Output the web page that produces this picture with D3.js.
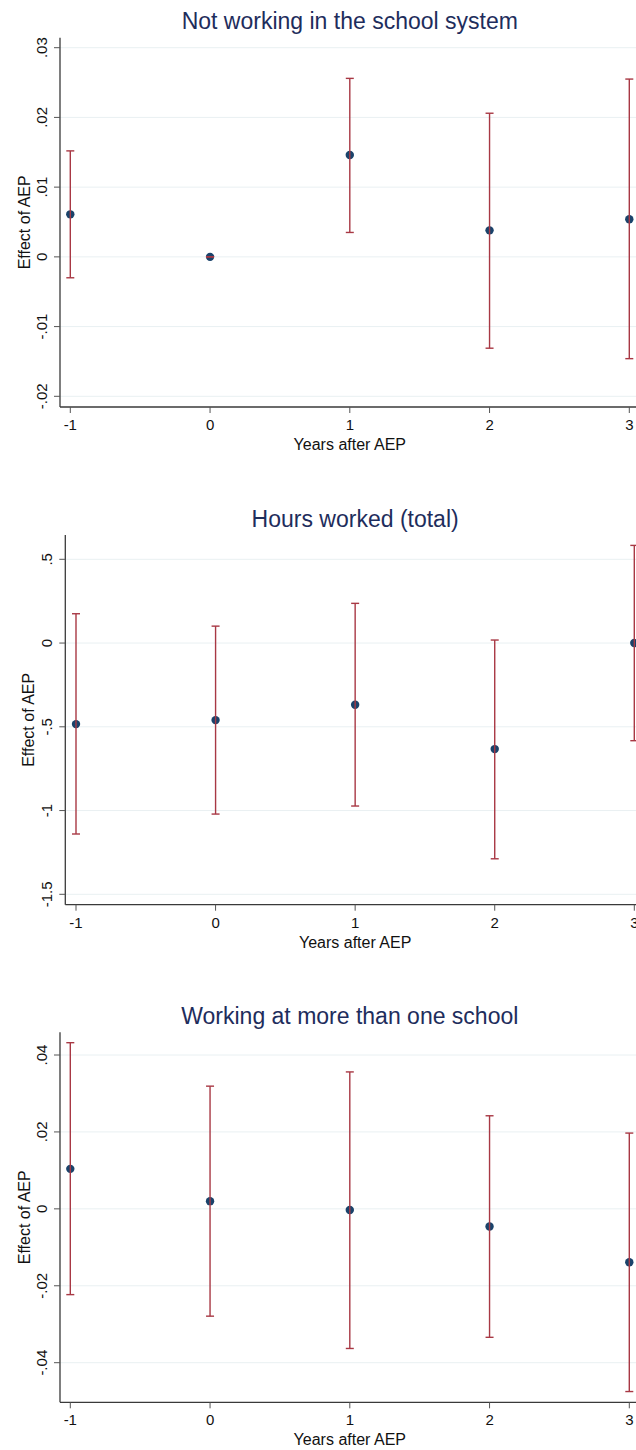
<!DOCTYPE html>
<meta charset="utf-8">
<style>
 body { margin: 0; background: #fff; }
 svg { display: block; font-family: 'Liberation Sans', Arial, Helvetica, sans-serif; }
 .grid { stroke: #e9f0f2; stroke-width: 1; }
 .axisline { stroke: #3a3a3a; stroke-width: 1.3; }
 .tick { stroke: #555; stroke-width: 1; }
 .bar { stroke: #a83844; stroke-width: 1.4; }
 .dot { fill: #1a436b; }
 .title { fill: #1e2d5c; font-size: 23px; }
 .ticklabel { fill: #111; font-size: 15px; }
 .axtitle { fill: #111; font-size: 16px; }
</style>
<body>
<svg width="636" height="1450"></svg>

<script src="https://d3js.org/d3.v7.min.js"></script>
<script>
 // years relative to AEP
 var years = [-1, 0, 1, 2, 3];

 // not working in the school system
 var notWorkingEst = [0.0061, 0.0, 0.0146, 0.0038, 0.0054];
 var notWorkingLo  = [-0.0030, 0.0, 0.0035, -0.0131, -0.0146];
 var notWorkingHi  = [0.0152, 0.0, 0.0256, 0.0206, 0.0255];
 var notWorkingTicks = [-0.02, -0.01, 0, 0.01, 0.02, 0.03];

 // hours worked (total)
 var hoursEst = [-0.484, -0.460, -0.368, -0.633, 0.0];
 var hoursLo  = [-1.140, -1.021, -0.973, -1.288, -0.583];
 var hoursHi  = [0.175, 0.101, 0.237, 0.018, 0.583];
 var hoursTicks = [-1.5, -1, -0.5, 0, 0.5];

 // working at more than one school
 var multiEst = [0.0104, 0.0020, -0.0003, -0.0046, -0.0139];
 var multiLo  = [-0.0223, -0.0279, -0.0363, -0.0334, -0.0475];
 var multiHi  = [0.0432, 0.0319, 0.0356, 0.0242, 0.0197];
 var multiTicks = [-0.04, -0.02, 0, 0.02, 0.04];

 var svg = d3.select('svg');
 var W = 636;

 function fmt(v) {
     if (v === 0) return '0';
     return String(+v.toFixed(3)).replace(/^(-?)0\./, '$1.');
 }

 var panels = [
     { title: 'Not working in the school system', est: notWorkingEst, lo: notWorkingLo, hi: notWorkingHi,
       ticks: notWorkingTicks, yDom: [-0.02, 0.03], yRange: [396.3, 47.7], axTop: 37.7, axBot: 407,
       axX: 60, xRange: [70.3, 629.3], titleY: 29.3, yLabX: 47, yTitleX: 30 },
     { title: 'Hours worked (total)', est: hoursEst, lo: hoursLo, hi: hoursHi,
       ticks: hoursTicks, yDom: [-1.5, 0.5], yRange: [894.3, 559.3], axTop: 535, axBot: 904.7,
       axX: 65.3, xRange: [76, 634.3], titleY: 526.6, yLabX: 51.5, yTitleX: 34 },
     { title: 'Working at more than one school', est: multiEst, lo: multiLo, hi: multiHi,
       ticks: multiTicks, yDom: [-0.04, 0.04], yRange: [1362.7, 1055], axTop: 1032.3, axBot: 1402.3,
       axX: 60, xRange: [70.3, 629.3], titleY: 1024, yLabX: 46.7, yTitleX: 30 }
 ];

 panels.forEach(function(p) {
     var x = d3.scaleLinear().domain([-1, 3]).range(p.xRange);
     var y = d3.scaleLinear().domain(p.yDom).range(p.yRange);
     var g = svg.append('g');

     // gridlines
     g.selectAll('.grid').data(p.ticks).enter().append('line')
         .attr('class', 'grid')
         .attr('x1', p.axX).attr('x2', W)
         .attr('y1', function(d) { return y(d); }).attr('y2', function(d) { return y(d); });

     // axes
     g.append('line').attr('class', 'axisline')
         .attr('x1', p.axX).attr('x2', p.axX).attr('y1', p.axTop).attr('y2', p.axBot);
     g.append('line').attr('class', 'axisline')
         .attr('x1', p.axX).attr('x2', W).attr('y1', p.axBot).attr('y2', p.axBot);

     g.selectAll('.ytick').data(p.ticks).enter().append('line')
         .attr('class', 'tick')
         .attr('x1', p.axX - 6).attr('x2', p.axX)
         .attr('y1', function(d) { return y(d); }).attr('y2', function(d) { return y(d); });
     g.selectAll('.ylab').data(p.ticks).enter().append('text')
         .attr('class', 'ticklabel')
         .attr('text-anchor', 'middle')
         .attr('transform', function(d) { return 'translate(' + p.yLabX + ',' + y(d) + ') rotate(-90)'; })
         .text(fmt);

     g.selectAll('.xtick').data(years).enter().append('line')
         .attr('class', 'tick')
         .attr('x1', function(d) { return x(d); }).attr('x2', function(d) { return x(d); })
         .attr('y1', p.axBot).attr('y2', p.axBot + 6);
     g.selectAll('.xlab').data(years).enter().append('text')
         .attr('class', 'ticklabel')
         .attr('text-anchor', 'middle')
         .attr('x', function(d) { return x(d); })
         .attr('y', p.axBot + 23)
         .text(function(d) { return d; });

     // titles
     var cx = (p.xRange[0] + p.xRange[1]) / 2;
     g.append('text').attr('class', 'title').attr('text-anchor', 'middle')
         .attr('x', cx).attr('y', p.titleY).text(p.title);
     g.append('text').attr('class', 'axtitle').attr('text-anchor', 'middle')
         .attr('x', cx).attr('y', p.axBot + 43).text('Years after AEP');
     g.append('text').attr('class', 'axtitle').attr('text-anchor', 'middle')
         .attr('transform', 'translate(' + p.yTitleX + ',' + ((p.axTop + p.axBot) / 2) + ') rotate(-90)')
         .text('Effect of AEP');

     // points, then error bars over them
     g.selectAll('.dot').data(years).enter().append('circle')
         .attr('class', 'dot')
         .attr('cx', function(d) { return x(d); })
         .attr('cy', function(d, i) { return y(p.est[i]); })
         .attr('r', 4.2);

     var bars = g.selectAll('.ci').data(years).enter().append('g');
     bars.append('line').attr('class', 'bar')
         .attr('x1', function(d) { return x(d); }).attr('x2', function(d) { return x(d); })
         .attr('y1', function(d, i) { return y(p.lo[i]); })
         .attr('y2', function(d, i) { return y(p.hi[i]); });
     bars.append('line').attr('class', 'bar')
         .attr('x1', function(d) { return x(d) - 4; }).attr('x2', function(d) { return x(d) + 4; })
         .attr('y1', function(d, i) { return y(p.lo[i]); })
         .attr('y2', function(d, i) { return y(p.lo[i]); });
     bars.append('line').attr('class', 'bar')
         .attr('x1', function(d) { return x(d) - 4; }).attr('x2', function(d) { return x(d) + 4; })
         .attr('y1', function(d, i) { return y(p.hi[i]); })
         .attr('y2', function(d, i) { return y(p.hi[i]); });
 });
</script>
